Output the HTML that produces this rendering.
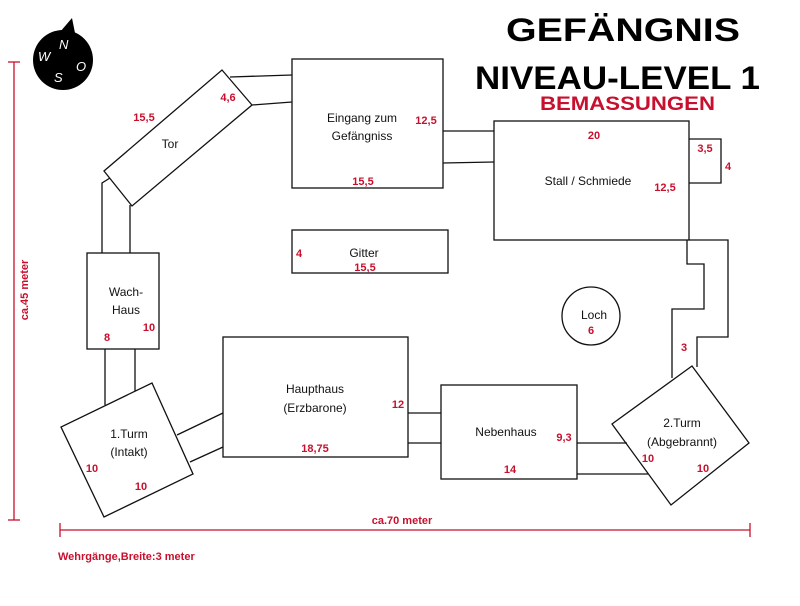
<!DOCTYPE html>
<html><head><meta charset="utf-8"><style>
html,body{margin:0;padding:0;background:#fff}
svg{display:block}
text{font-family:"Liberation Sans",sans-serif}
.l{fill:#111;font-size:12px}
.r{fill:#c8102e;font-size:11px;font-weight:bold}
</style></head><body>
<svg width="800" height="606" viewBox="0 0 800 606" xmlns="http://www.w3.org/2000/svg">
<rect width="800" height="606" fill="#fff"/>
<g fill="none" stroke="#111" stroke-width="1.3">
<polygon points="222,70 252,105 132,206 104,171"/>
<line x1="230" y1="77" x2="292" y2="75"/>
<line x1="252" y1="105" x2="292" y2="102"/>
<polyline points="110,178 102,183 102,253"/>
<line x1="130" y1="205" x2="130" y2="253"/>
<rect x="292" y="59" width="151" height="129"/>
<line x1="443" y1="131" x2="494" y2="131"/>
<line x1="443" y1="163" x2="494" y2="162"/>
<rect x="292" y="230" width="156" height="43"/>
<rect x="494" y="121" width="195" height="119"/>
<polyline points="689,139 721,139 721,183 689,183"/>
<polyline points="689,240 728,240 728,337 697,337 697,367"/>
<polyline points="687,240 687,264 704,264 704,309 672,309 672,378"/>
<rect x="87" y="253" width="72" height="96"/>
<line x1="105" y1="349" x2="105" y2="405"/>
<line x1="135" y1="349" x2="135" y2="391"/>
<polygon points="152,383 193,474 104,517 61,427"/>
<line x1="177" y1="435" x2="223" y2="413"/>
<line x1="190" y1="462" x2="223" y2="447"/>
<rect x="223" y="337" width="185" height="120"/>
<line x1="408" y1="413" x2="441" y2="413"/>
<line x1="408" y1="443" x2="441" y2="443"/>
<rect x="441" y="385" width="136" height="94"/>
<line x1="577" y1="443" x2="627" y2="443"/>
<line x1="577" y1="474" x2="648" y2="474"/>
<polygon points="692,366 749,443 671,505 612,424"/>
<circle cx="591" cy="316" r="29"/>
</g>
<circle cx="63" cy="60" r="30" fill="#000"/>
<polygon points="60,32 72,18 76,38" fill="#000"/>
<g fill="#fff" font-style="italic" font-size="13" font-family="Liberation Sans,sans-serif">
<text x="59" y="49">N</text><text x="38" y="61">W</text><text x="76" y="71">O</text><text x="54" y="82">S</text>
</g>
<g stroke="#c8102e" stroke-width="1.3">
<line x1="14" y1="62" x2="14" y2="520"/><line x1="8" y1="62" x2="20" y2="62"/><line x1="8" y1="520" x2="20" y2="520"/>
<line x1="60" y1="530" x2="750" y2="530"/><line x1="60" y1="523" x2="60" y2="537"/><line x1="750" y1="523" x2="750" y2="537"/>
</g>
<text class="r" x="0" y="0" transform="translate(28,290) rotate(-90)" text-anchor="middle" font-size="10">ca.45 meter</text>
<text class="r" x="402" y="524" text-anchor="middle" font-size="10">ca.70 meter</text>
<text class="r" x="58" y="560" font-size="10">Wehrgänge,Breite:3 meter</text>
<text x="506" y="41" font-size="32" font-weight="bold" fill="#000" textLength="234" lengthAdjust="spacingAndGlyphs">GEFÄNGNIS</text>
<text x="475" y="89" font-size="32" font-weight="bold" fill="#000" textLength="285" lengthAdjust="spacingAndGlyphs">NIVEAU-LEVEL 1</text>
<text x="540" y="110" font-size="19" font-weight="bold" fill="#c8102e" textLength="175" lengthAdjust="spacingAndGlyphs">BEMASSUNGEN</text>
<text class="l" x="170" y="148" text-anchor="middle">Tor</text>
<text class="r" x="144" y="121" text-anchor="middle">15,5</text>
<text class="r" x="228" y="101" text-anchor="middle">4,6</text>
<text class="l" x="362" y="122" text-anchor="middle">Eingang zum</text>
<text class="l" x="362" y="140" text-anchor="middle">Gefängniss</text>
<text class="r" x="426" y="124" text-anchor="middle">12,5</text>
<text class="r" x="363" y="185" text-anchor="middle">15,5</text>
<text class="l" x="364" y="257" text-anchor="middle">Gitter</text>
<text class="r" x="299" y="257" text-anchor="middle">4</text>
<text class="r" x="365" y="271" text-anchor="middle">15,5</text>
<text class="l" x="588" y="185" text-anchor="middle">Stall / Schmiede</text>
<text class="r" x="594" y="139" text-anchor="middle">20</text>
<text class="r" x="665" y="191" text-anchor="middle">12,5</text>
<text class="r" x="705" y="152" text-anchor="middle">3,5</text>
<text class="r" x="728" y="170" text-anchor="middle">4</text>
<text class="l" x="126" y="296" text-anchor="middle">Wach-</text>
<text class="l" x="126" y="314" text-anchor="middle">Haus</text>
<text class="r" x="149" y="331" text-anchor="middle">10</text>
<text class="r" x="107" y="341" text-anchor="middle">8</text>
<text class="l" x="594" y="319" text-anchor="middle">Loch</text>
<text class="r" x="591" y="334" text-anchor="middle">6</text>
<text class="r" x="684" y="351" text-anchor="middle">3</text>
<text class="l" x="315" y="393" text-anchor="middle">Haupthaus</text>
<text class="l" x="315" y="412" text-anchor="middle">(Erzbarone)</text>
<text class="r" x="398" y="408" text-anchor="middle">12</text>
<text class="r" x="315" y="452" text-anchor="middle">18,75</text>
<text class="l" x="506" y="436" text-anchor="middle">Nebenhaus</text>
<text class="r" x="564" y="441" text-anchor="middle">9,3</text>
<text class="r" x="510" y="473" text-anchor="middle">14</text>
<text class="l" x="129" y="438" text-anchor="middle">1.Turm</text>
<text class="l" x="129" y="456" text-anchor="middle">(Intakt)</text>
<text class="r" x="92" y="472" text-anchor="middle">10</text>
<text class="r" x="141" y="490" text-anchor="middle">10</text>
<text class="l" x="682" y="427" text-anchor="middle">2.Turm</text>
<text class="l" x="682" y="446" text-anchor="middle">(Abgebrannt)</text>
<text class="r" x="648" y="462" text-anchor="middle">10</text>
<text class="r" x="703" y="472" text-anchor="middle">10</text>
</svg>
</body></html>
